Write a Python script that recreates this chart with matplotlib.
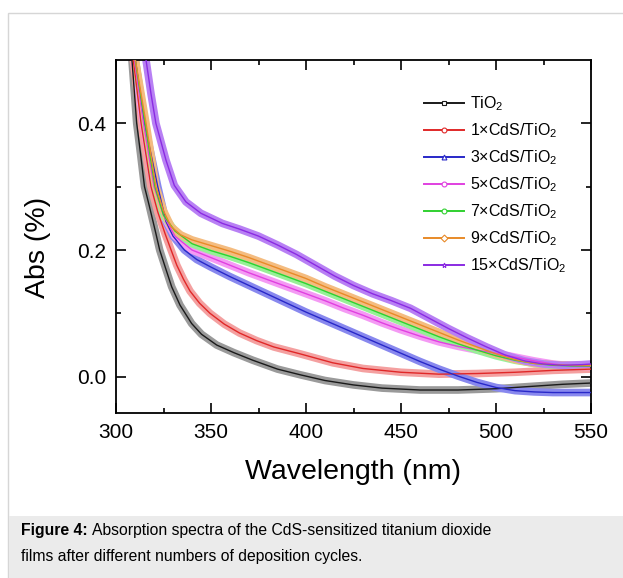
import matplotlib
matplotlib.use("Agg")
import matplotlib.pyplot as plt
from matplotlib.lines import Line2D
from matplotlib.patches import Rectangle

plt.rcParams['font.family'] = ['Liberation Sans', 'DejaVu Sans']
plt.rcParams['mathtext.default'] = 'regular'

# ---------------- data ----------------
wl_tio2 = [308, 308.4, 310.9, 313, 315, 317.5, 321, 323, 325.8, 329.3, 333.7, 339.8, 345, 353, 362, 372, 385, 397, 410, 425, 440, 460, 480, 500, 520, 535, 550]
ab_tio2 = [0.56, 0.5, 0.4, 0.35, 0.3, 0.27, 0.226, 0.2, 0.174, 0.142, 0.113, 0.084, 0.067, 0.05, 0.038, 0.026, 0.012, 0.003, -0.006, -0.013, -0.018, -0.021, -0.021, -0.019, -0.015, -0.012, -0.01]

wl_1 = [308.6, 309.1, 313.2, 318.4, 322, 325.8, 329, 332, 335.5, 339, 344, 349.5, 357, 365, 374, 383, 397, 414, 430, 450, 470, 490, 510, 530, 550]
ab_1 = [0.56, 0.5, 0.4, 0.3, 0.26, 0.226, 0.2, 0.176, 0.154, 0.135, 0.116, 0.1, 0.083, 0.069, 0.057, 0.047, 0.036, 0.022, 0.013, 0.007, 0.004, 0.005, 0.007, 0.01, 0.012]

wl_3 = [309.5, 310.2, 315, 322, 326.3, 330, 336, 342.5, 350, 360, 370, 380, 390, 400, 410, 420, 430, 440, 450, 460, 470, 480, 490, 500, 510, 520, 530, 540, 550]
ab_3 = [0.56, 0.5, 0.4, 0.3, 0.245, 0.222, 0.2, 0.185, 0.173, 0.158, 0.144, 0.13, 0.116, 0.102, 0.089, 0.076, 0.063, 0.05, 0.037, 0.024, 0.012, 0.001, -0.009, -0.017, -0.022, -0.024, -0.025, -0.025, -0.025]

wl_5 = [309.2, 309.7, 314.5, 320, 325, 331, 340, 350, 360, 370, 380, 390, 400, 410, 420, 430, 440, 450, 460, 470, 480, 490, 500, 510, 520, 530, 540, 550]
ab_5 = [0.56, 0.5, 0.4, 0.3, 0.255, 0.222, 0.2, 0.188, 0.176, 0.164, 0.153, 0.142, 0.131, 0.12, 0.108, 0.097, 0.085, 0.074, 0.064, 0.055, 0.048, 0.042, 0.037, 0.031, 0.025, 0.02, 0.017, 0.016]

wl_7 = [309.6, 310.1, 315.3, 320.5, 325, 331, 340, 350, 360, 370, 380, 390, 400, 410, 420, 430, 440, 450, 460, 470, 480, 490, 500, 510, 520, 530, 540, 550]
ab_7 = [0.56, 0.5, 0.4, 0.3, 0.255, 0.23, 0.21, 0.199, 0.19, 0.18, 0.169, 0.158, 0.147, 0.135, 0.123, 0.111, 0.099, 0.087, 0.075, 0.063, 0.052, 0.042, 0.033, 0.026, 0.021, 0.018, 0.017, 0.017]

wl_9 = [309.7, 310.2, 315.8, 321, 325, 329, 334, 340, 350, 360, 370, 380, 390, 400, 410, 420, 430, 440, 450, 460, 470, 480, 490, 500, 510, 520, 530, 540, 550]
ab_9 = [0.56, 0.5, 0.4, 0.3, 0.262, 0.237, 0.224, 0.216, 0.207, 0.198, 0.188, 0.177, 0.166, 0.155, 0.142, 0.13, 0.118, 0.106, 0.094, 0.082, 0.07, 0.058, 0.047, 0.036, 0.027, 0.021, 0.019, 0.018, 0.018]

wl_15 = [315.3, 315.8, 318.4, 321, 326.3, 330.7, 336.8, 344.7, 356, 365, 375, 385, 395, 405, 415, 425, 435, 445, 455, 465, 475, 485, 495, 505, 515, 525, 535, 545, 550]
ab_15 = [0.56, 0.5, 0.447, 0.4, 0.342, 0.302, 0.276, 0.258, 0.242, 0.233, 0.222, 0.208, 0.193, 0.176, 0.159, 0.144, 0.131, 0.12, 0.108, 0.092, 0.076, 0.061, 0.047, 0.034, 0.025, 0.02, 0.018, 0.019, 0.02]

labels = ["TiO$_2$", "1×CdS/TiO$_2$", "3×CdS/TiO$_2$", "5×CdS/TiO$_2$",
          "7×CdS/TiO$_2$", "9×CdS/TiO$_2$", "15×CdS/TiO$_2$"]
line_colors = ["#1a1a1a", "#e02828", "#2828c8", "#e040e0", "#30d030", "#e88a28", "#8a2be2"]
band_colors = ["#9a9a9a", "#f4a0a0", "#8888ee", "#f49af4", "#98f098", "#f4bc80", "#b880f4"]
markers = ["s", "o", "^", "o", "o", "D", "*"]

xs = [wl_tio2, wl_1, wl_3, wl_5, wl_7, wl_9, wl_15]
ys = [ab_tio2, ab_1, ab_3, ab_5, ab_7, ab_9, ab_15]

# ---------------- figure ----------------
fig = plt.figure(figsize=(6.23, 5.78), dpi=100)
W, H = 623, 578

# outer frame and caption band
fig.patches.append(Rectangle((8 / W, -0.01), 1, 1.01 - 13 / H, transform=fig.transFigure,
                             facecolor="white", edgecolor="#d6d6d6", lw=1.0, zorder=-3))
fig.patches.append(Rectangle((9 / W, 0), 1, (578 - 516) / H, transform=fig.transFigure,
                             facecolor="#ebebeb", edgecolor="none", zorder=-2))

ax = fig.add_axes([116 / W, 1 - 413 / H, (591 - 116) / W, (413 - 60) / H])
ax.set_zorder(2)
ax.patch.set_alpha(0)

for x, y, lc, bc in zip(xs, ys, line_colors, band_colors):
    ax.plot(x, y, color=bc, lw=5.5, solid_capstyle='butt', solid_joinstyle='round', zorder=2)
    ax.plot(x, y, color=lc, lw=1.0, zorder=3)

ax.set_xlim(300, 550)
ax.set_ylim(-0.0573, 0.5)
ax.set_xticks([300, 350, 400, 450, 500, 550])
ax.set_xticks([325, 375, 425, 475, 525], minor=True)
ax.set_yticks([0.0, 0.2, 0.4])
ax.set_yticklabels(["0.0", "0.2", "0.4"])
ax.set_yticks([0.1, 0.3], minor=True)
ax.tick_params(which='both', direction='in', top=True, right=True, width=1.2, labelsize=15, pad=7)
ax.tick_params(which='major', length=7)
ax.tick_params(which='minor', length=3.5)
for s in ax.spines.values():
    s.set_linewidth(1.3)

fig.text(353 / W, 1 - 472 / H, "Wavelength (nm)", ha='center', va='center', fontsize=20.5)
fig.text(38 / W, 1 - 247 / H, "Abs (%)", ha='center', va='center', rotation=90, fontsize=20.5)

# legend
handles = [Line2D([], [], color=lc, lw=1.4, marker=m, markersize=3.5,
                  markerfacecolor='white', markeredgecolor=lc, markeredgewidth=0.8)
           for lc, m in zip(line_colors, markers)]
leg = ax.legend(handles, labels, loc='upper left', bbox_to_anchor=(0.635, 0.92),
                frameon=False, fontsize=11.5, handlelength=2.5, handletextpad=0.4,
                labelspacing=0.52, borderaxespad=0)

# caption
r = fig.canvas.get_renderer()
t1 = fig.text(21 / W, 1 - 531 / H, "Figure 4:", fontsize=11.3, fontweight='bold', va='center')
bb = t1.get_window_extent(renderer=r)
fig.text(bb.x1 / W + 4 / W, 1 - 531 / H,
         "Absorption spectra of the CdS-sensitized titanium dioxide",
         fontsize=11.3, va='center')
fig.text(21 / W, 1 - 557 / H, "films after different numbers of deposition cycles.",
         fontsize=11.3, va='center')

fig.savefig("out.png", dpi=100)
